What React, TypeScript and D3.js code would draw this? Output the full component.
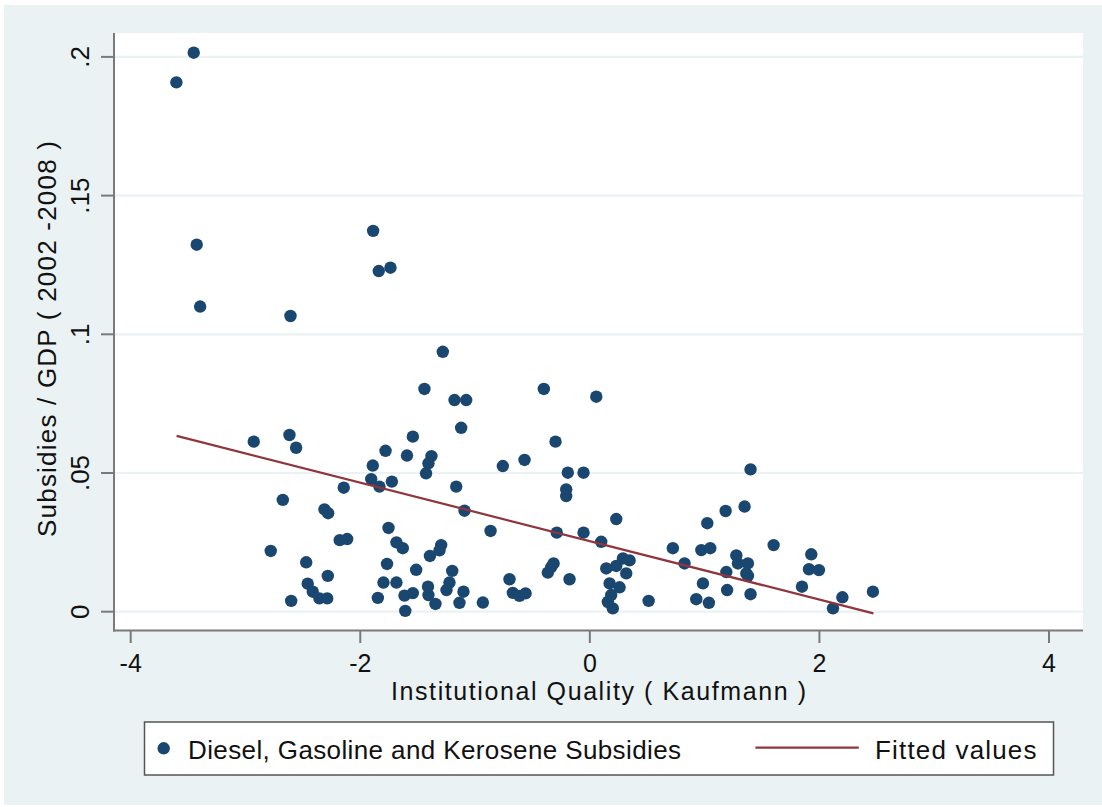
import React from "react";
import * as d3 from "d3";

// Institutional Quality (Kaufmann) values
const kaufmann: number[] = [
  -3.451, -3.602, -3.425, -1.888, -1.839, -1.737, -3.395, -2.608, -1.281, -1.441,
  -1.179, -1.077, -1.121, -2.928, -2.617, -2.559, -1.542, -1.780, -1.593, -1.380,
  -1.406, -1.427, -1.891, -1.905, -1.833, -1.725, -0.758, -1.164, -1.092, -0.865,
  -2.144, -2.675, -2.312, -2.280, -2.179, -2.114, -1.754, -1.685, -1.630, -1.295,
  -1.310, -1.393, -2.780, -2.471, -1.767, -1.513, -1.199, -2.283, -2.458, -2.414,
  -2.356, -2.288, -2.602, -1.798, -1.685, -1.847, -1.615, -1.542, -1.410, -1.406,
  -1.608, -1.345, -1.223, -1.249, -1.101, -1.136, -0.932, -0.401, 0.056, -0.299,
  -0.569, -0.192, -0.055, -0.206, -0.206, 1.400, 1.348, 1.183, 1.023, 0.230,
  -0.288, -0.055, 0.099, 0.723, 0.971, 1.049, 1.601, 1.929, 0.825, 1.276,
  1.290, 1.377, 1.363, 1.377, 1.189, 1.909, 1.996, 0.288, 0.346, 0.143,
  0.230, 0.317, 0.172, 0.259, 0.186, 0.157, 0.200, -0.366, -0.316, -0.336,
  -0.177, -0.700, -0.671, -0.613, -0.560, 0.512, 0.927, 1.037, 0.985, 1.196,
  1.400, 1.848, 2.118, 2.200, 2.466,
];

// Subsidies / GDP (2002-2008) values, same order
const subsidies: number[] = [
  0.2015, 0.1908, 0.1323, 0.1373, 0.1228, 0.1240, 0.1100, 0.1066, 0.0937, 0.0803,
  0.0763, 0.0763, 0.0663, 0.0613, 0.0637, 0.0591, 0.0631, 0.0580, 0.0563, 0.0561,
  0.0535, 0.0499, 0.0527, 0.0478, 0.0451, 0.0469, 0.0525, 0.0451, 0.0364, 0.0291,
  0.0447, 0.0403, 0.0369, 0.0355, 0.0258, 0.0262, 0.0302, 0.0250, 0.0229, 0.0240,
  0.0221, 0.0201, 0.0219, 0.0178, 0.0172, 0.0151, 0.0147, 0.0129, 0.0101, 0.0072,
  0.0048, 0.0048, 0.0039, 0.0105, 0.0105, 0.0050, 0.0058, 0.0067, 0.0090, 0.0060,
  0.0003, 0.0028, 0.0105, 0.0078, 0.0072, 0.0032, 0.0033, 0.0803, 0.0775, 0.0613,
  0.0547, 0.0501, 0.0501, 0.0441, 0.0417, 0.0513, 0.0379, 0.0363, 0.0319, 0.0334,
  0.0285, 0.0285, 0.0252, 0.0229, 0.0222, 0.0229, 0.0240, 0.0207, 0.0174, 0.0203,
  0.0174, 0.0174, 0.0138, 0.0129, 0.0143, 0.0153, 0.0150, 0.0192, 0.0185, 0.0156,
  0.0165, 0.0138, 0.0102, 0.0088, 0.0060, 0.0035, 0.0012, 0.0141, 0.0174, 0.0161,
  0.0117, 0.0117, 0.0068, 0.0057, 0.0066, 0.0039, 0.0045, 0.0032, 0.0102, 0.0078,
  0.0063, 0.0090, 0.0012, 0.0052, 0.0072,
];

// Fitted values line (endpoints)
const fitX: number[] = [-3.60, 2.47];
const fitY: number[] = [0.0634, -0.0006];

const xTicks: number[] = [-4, -2, 0, 2, 4];
const yTicks: number[] = [0, 0.05, 0.1, 0.15, 0.2];
const yTickLabels: string[] = ["0", ".05", ".1", ".15", ".2"];

const xTitle = "Institutional Quality ( Kaufmann )";
const yTitle = "Subsidies / GDP ( 2002 -2008 )";
const legendLabels: string[] = ["Diesel, Gasoline and Kerosene Subsidies", "Fitted values"];

const W = 1102;
const H = 807;
const BG = "#eaf2f3";
const NAVY = "#1a476f";
const MAROON = "#90353b";
const AXIS = "#7a7a7a";
const FONT = "'Liberation Sans', Arial, Helvetica, sans-serif";

export default function App() {
  const plotL = 114;
  const plotR = 1083;
  const plotT = 33;
  const plotB = 630.5;

  const x = d3.scaleLinear().domain([-4, 4]).range([130.7, 1049]);
  const y = d3.scaleLinear().domain([0, 0.2]).range([611.7, 56.9]);

  const fitPts: [number, number][] = fitX.map((v, i) => [v, fitY[i]]);
  const line = d3
    .line<[number, number]>()
    .x((d) => x(d[0]))
    .y((d) => y(d[1]));

  const pts = kaufmann.map((v, i) => ({ x: v, y: subsidies[i] }));

  return (
    <svg
      width={W}
      height={H}
      style={{ position: "absolute", left: 0, top: 0, display: "block" }}
      fontFamily={FONT}
    >
      <rect x={0} y={0} width={W} height={H} fill="#ffffff" />
      <rect x={4} y={5} width={W - 4} height={H - 7} fill={BG} />
      {/* plot region */}
      <rect x={plotL} y={plotT} width={plotR - plotL} height={plotB - plotT} fill="#ffffff" />

      {/* gridlines */}
      {yTicks.map((t) => (
        <line
          key={"g" + t}
          x1={plotL}
          x2={plotR}
          y1={y(t)}
          y2={y(t)}
          stroke={BG}
          strokeWidth={2.2}
        />
      ))}

      {/* y axis */}
      <line x1={plotL} x2={plotL} y1={plotT} y2={plotB + 1} stroke={AXIS} strokeWidth={2} />
      {yTicks.map((t, i) => (
        <g key={"yt" + t}>
          <line x1={101} x2={plotL} y1={y(t)} y2={y(t)} stroke={AXIS} strokeWidth={2} />
          <text
            transform={`translate(88.5,${y(t)}) rotate(-90)`}
            textAnchor="middle"
            fontSize={26}
            fill="#111"
          >
            {yTickLabels[i]}
          </text>
        </g>
      ))}
      <text
        transform={`translate(55.5,339) rotate(-90)`}
        textAnchor="middle"
        fontSize={26}
        fill="#111"
        textLength={396}
        lengthAdjust="spacing"
      >
        {yTitle}
      </text>

      {/* x axis */}
      <line x1={plotL - 1} x2={plotR} y1={plotB} y2={plotB} stroke={AXIS} strokeWidth={2} />
      {xTicks.map((t) => (
        <g key={"xt" + t}>
          <line x1={x(t)} x2={x(t)} y1={plotB} y2={643} stroke={AXIS} strokeWidth={2} />
          <text x={x(t)} y={671.5} textAnchor="middle" fontSize={25} fill="#111">
            {t < 0 ? "-" + Math.abs(t) : String(t)}
          </text>
        </g>
      ))}
      <text
        x={598.5}
        y={699.5}
        textAnchor="middle"
        fontSize={25}
        fill="#111"
        textLength={415}
        lengthAdjust="spacing"
      >
        {xTitle}
      </text>

      {/* points */}
      {pts.map((p, i) => (
        <circle key={"p" + i} cx={x(p.x)} cy={y(p.y)} r={6.2} fill={NAVY} />
      ))}

      {/* fitted line */}
      <path d={line(fitPts) || ""} fill="none" stroke={MAROON} strokeWidth={2.2} />

      {/* legend */}
      <rect x={144.5} y={722} width={909} height={53} fill="#ffffff" stroke="#555" strokeWidth={1.5} />
      <circle cx={163.7} cy={748.3} r={6.2} fill={NAVY} />
      <text
        x={188}
        y={759}
        fontSize={26}
        fill="#111"
        textLength={493}
        lengthAdjust="spacing"
      >
        {legendLabels[0]}
      </text>
      <line x1={755.4} x2={858.8} y1={747.7} y2={747.7} stroke={MAROON} strokeWidth={2.2} />
      <text
        x={875}
        y={759}
        fontSize={26}
        fill="#111"
        textLength={161.5}
        lengthAdjust="spacing"
      >
        {legendLabels[1]}
      </text>
    </svg>
  );
}
